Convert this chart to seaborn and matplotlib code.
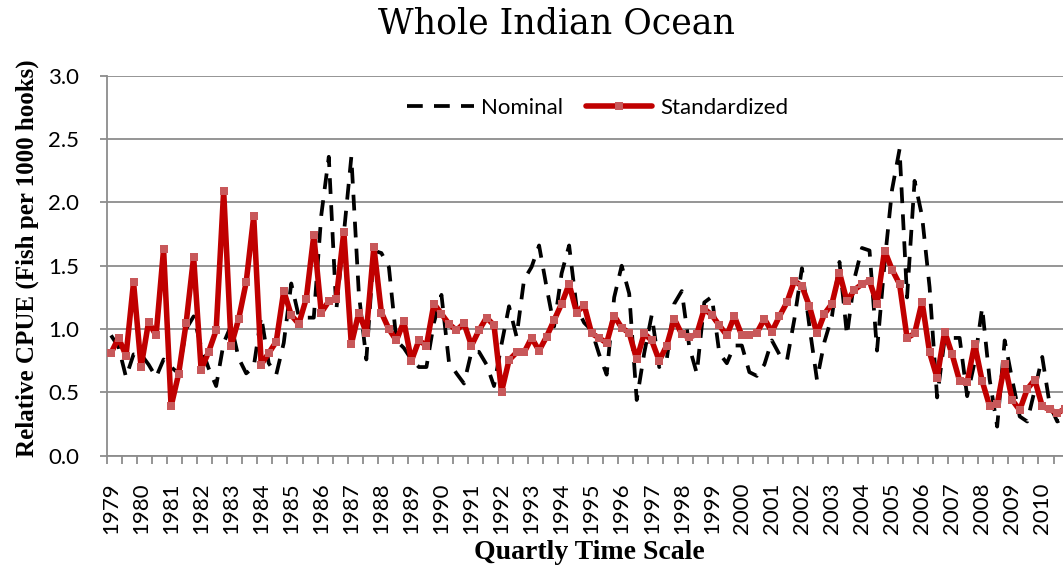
import numpy as np
import pandas as pd
import matplotlib
matplotlib.use("Agg")
import matplotlib.pyplot as plt
import seaborn as sns
from matplotlib.ticker import FixedLocator, FormatStrFormatter

# ---------------- data ----------------
years = list(range(1979, 2011))
quarters = [1, 2, 3, 4]

nominal = [
    0.95, 0.86, 0.62, 0.80, 0.80, 0.72, 0.62, 0.76,   # 1979-1980
    0.70, 0.65, 1.00, 1.10, 0.86, 0.69, 0.55, 0.89,   # 1981-1982
    1.03, 0.77, 0.65, 0.70, 1.10, 0.73, 0.64, 0.89,   # 1983-1984
    1.36, 1.10, 1.09, 1.09, 1.90, 2.36, 1.15, 1.75,   # 1985-1986
    2.36, 1.28, 0.76, 1.62, 1.60, 1.49, 0.91, 0.85,   # 1987-1988
    0.76, 0.70, 0.70, 1.05, 1.27, 0.74, 0.65, 0.57,   # 1989-1990
    0.82, 0.82, 0.72, 0.55, 0.88, 1.18, 0.94, 1.39,   # 1991-1992
    1.49, 1.66, 1.33, 1.02, 1.44, 1.66, 1.17, 1.05,   # 1993-1994
    0.99, 0.80, 0.64, 1.25, 1.50, 1.28, 0.44, 0.81,   # 1995-1996
    1.11, 0.70, 0.76, 1.20, 1.30, 0.86, 0.65, 1.21,   # 1997-1998
    1.255, 0.81, 0.73, 0.87, 0.87, 0.66, 0.63, 0.72,  # 1999-2000
    0.91, 0.80, 0.75, 1.08, 1.48, 1.02, 0.60, 0.90,   # 2001-2002
    1.10, 1.53, 0.95, 1.40, 1.64, 1.62, 0.83, 1.52,   # 2003-2004
    2.10, 2.42, 1.25, 2.17, 1.89, 1.33, 0.46, 0.92,   # 2005-2006
    0.93, 0.93, 0.47, 0.74, 1.17, 0.60, 0.23, 0.91,   # 2007-2008
    0.60, 0.31, 0.27, 0.52, 0.78, 0.40, 0.27, 0.30,   # 2009-2010
]

standardized = [
    0.81, 0.93, 0.79, 1.37, 0.70, 1.055, 0.95, 1.63,
    0.39, 0.645, 1.045, 1.57, 0.68, 0.82, 0.99, 2.09,
    0.87, 1.08, 1.37, 1.89, 0.72, 0.81, 0.90, 1.30,
    1.11, 1.04, 1.24, 1.74, 1.13, 1.22, 1.24, 1.77,
    0.88, 1.13, 0.97, 1.65, 1.13, 1.00, 0.91, 1.06,
    0.75, 0.91, 0.87, 1.20, 1.12, 1.04, 0.99, 1.045,
    0.87, 0.99, 1.09, 1.03, 0.505, 0.755, 0.815, 0.815,
    0.93, 0.83, 0.94, 1.07, 1.20, 1.355, 1.13, 1.19,
    0.965, 0.93, 0.89, 1.105, 1.01, 0.97, 0.76, 0.965,
    0.91, 0.75, 0.87, 1.08, 0.96, 0.935, 0.96, 1.16,
    1.11, 1.03, 0.95, 1.10, 0.95, 0.95, 0.97, 1.08,
    0.98, 1.10, 1.21, 1.38, 1.34, 1.18, 0.965, 1.12,
    1.20, 1.445, 1.22, 1.31, 1.355, 1.38, 1.20, 1.62,
    1.47, 1.355, 0.93, 0.965, 1.215, 0.815, 0.615, 0.98,
    0.80, 0.59, 0.58, 0.88, 0.59, 0.39, 0.405, 0.725,
    0.44, 0.36, 0.525, 0.60, 0.39, 0.365, 0.335, 0.37,
]

y_ticks = [0.0, 0.5, 1.0, 1.5, 2.0, 2.5, 3.0]

periods = [f"{y}Q{q}" for y in years for q in quarters]
df = pd.DataFrame({
    "period": periods,
    "pos": np.arange(len(periods)),
    "Nominal": nominal,
    "Standardized": standardized,
})

# ---------------- style ----------------
sns.set_theme(style="white")
plt.rcParams['font.family'] = ['Lato', 'DejaVu Sans']
plt.rcParams['text.color'] = 'black'
plt.rcParams['axes.labelcolor'] = 'black'
plt.rcParams['xtick.color'] = 'black'
plt.rcParams['ytick.color'] = 'black'

grid_c = "#8c8c8c"

fig = plt.figure(figsize=(10.63, 5.69), dpi=100)
ax = fig.add_axes([0.1009, 0.1991, 0.9043, 0.6678])

sns.lineplot(data=df, x="pos", y="Nominal", ax=ax, color="black",
             linewidth=2.7, linestyle=(0, (4.2, 3.0)), label="Nominal",
             estimator=None, zorder=3)
sns.lineplot(data=df, x="pos", y="Standardized", ax=ax, color="#C00000",
             linewidth=4.0, marker="s", markersize=5.6,
             markerfacecolor="#C8585A", markeredgewidth=0,
             label="Standardized", estimator=None, zorder=4)

# axes
ax.set_xlim(-0.5, len(periods) - 0.5)
ax.set_ylim(0, 3)
ax.set_xticks(np.arange(0, len(periods), 4))
ax.set_xticklabels([str(y) for y in years], rotation=90, fontsize=16)
ax.xaxis.set_minor_locator(FixedLocator(np.arange(-0.5, len(periods), 2)))
ax.tick_params(axis='x', which='major', length=0, pad=19, labelcolor='black')
ax.tick_params(axis='x', which='minor', bottom=True, length=6, width=1.3,
               color=grid_c, direction='out')
ax.set_yticks(y_ticks)
ax.yaxis.set_major_formatter(FormatStrFormatter('%.1f'))
ax.tick_params(axis='y', which='major', left=True, length=5, width=1.3,
               color=grid_c, direction='out', pad=15, labelsize=16,
               labelcolor='black')
ax.yaxis.grid(True, color=grid_c, linewidth=1.3)
ax.xaxis.grid(False)
ax.set_axisbelow(True)
for s in ["top", "right"]:
    ax.spines[s].set_visible(False)
for s in ["left", "bottom"]:
    ax.spines[s].set_color(grid_c)
    ax.spines[s].set_linewidth(1.3)
ax.set_xlabel("")
ax.set_ylabel("")

# legend
h, l = ax.get_legend_handles_labels()
leg = ax.legend(h, l, loc="center", bbox_to_anchor=(0.51, 0.915), ncol=2,
                frameon=False, fontsize=16, handlelength=3.0,
                handletextpad=0.35, columnspacing=1.0, numpoints=1)
for t in leg.get_texts():
    t.set_color("black")

# titles
fig.text(556 / 1063, 1 - 33 / 569, "Whole Indian Ocean", ha="center",
         va="baseline", fontfamily="DejaVu Serif", fontsize=25,
         color="black")
fig.text(27 / 1063, 1 - 258 / 569, "Relative CPUE (Fish per 1000 hooks)",
         rotation=90, ha="center", va="center", color="black",
         fontfamily="Liberation Serif", fontweight="bold", fontsize=18)
fig.text(589 / 1063, 1 - 559 / 569, "Quartly Time Scale", ha="center",
         va="baseline", fontfamily="Liberation Serif", fontweight="bold",
         fontsize=20, color="black")

fig.savefig("out.png", dpi=100)
